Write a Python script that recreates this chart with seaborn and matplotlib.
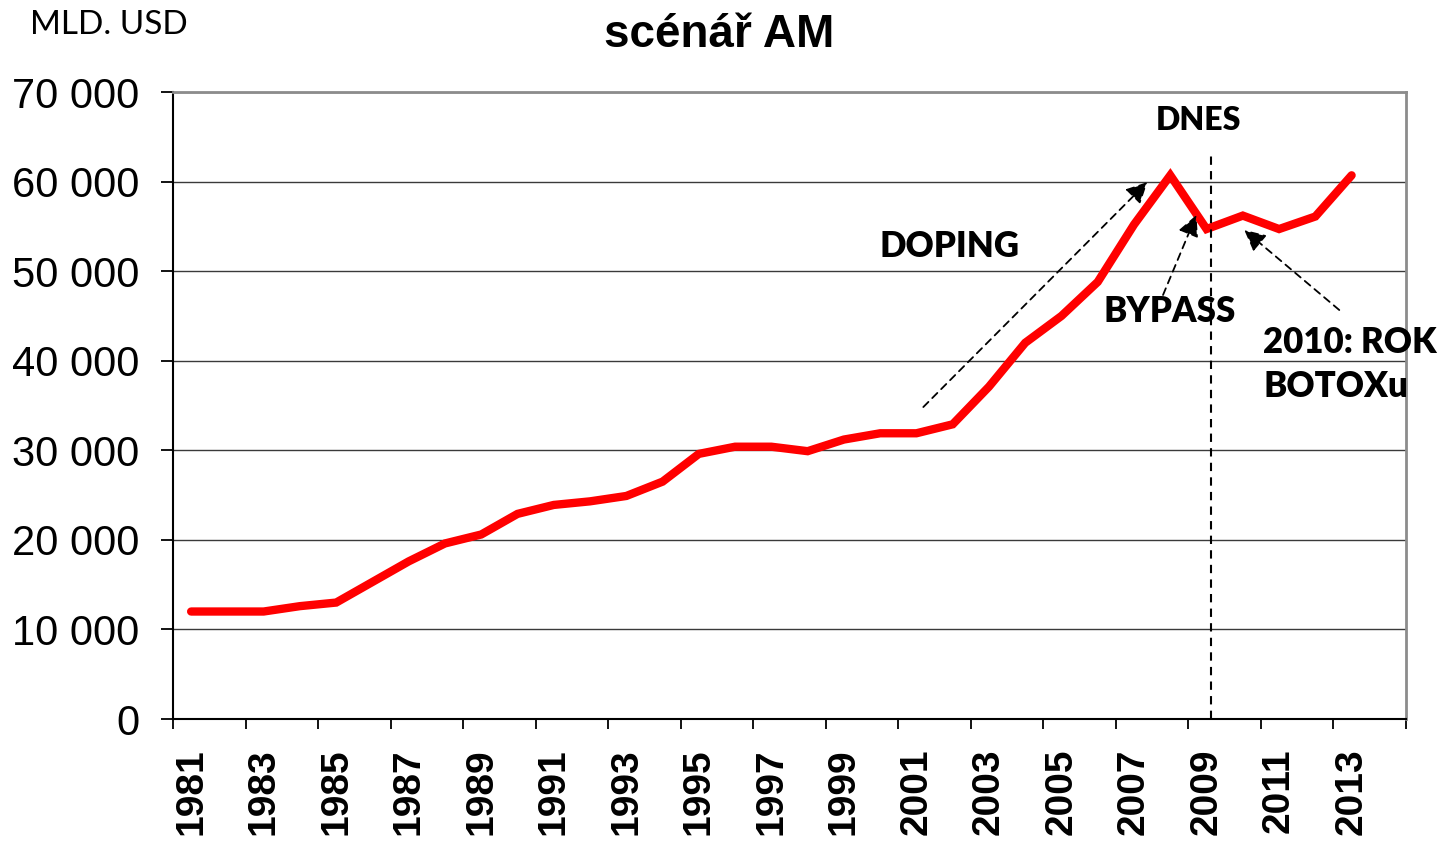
import numpy as np
import pandas as pd
import matplotlib
matplotlib.use("Agg")
import matplotlib.pyplot as plt
from matplotlib.ticker import FixedLocator, FuncFormatter
import seaborn as sns

# market size, billions USD
years = list(range(1981, 2014))
values = [12000, 12000, 12000, 12600, 13000, 15300, 17600, 19600, 20600, 22900,
          23900, 24300, 24900, 26500, 29600, 30400, 30400, 29900, 31200, 31900,
          31900, 32900, 37100, 42000, 45000, 48800, 55200, 60700, 54700, 56200,
          54700, 56100, 60700]
y_ticks = [0, 10000, 20000, 30000, 40000, 50000, 60000, 70000]
label_years = list(range(1981, 2014, 2))

df = pd.DataFrame({"year": years, "value": values})

sns.set_style("white")
plt.rcParams["font.family"] = ["Liberation Sans", "DejaVu Sans"]
plt.rcParams["text.color"] = "black"
plt.rcParams["xtick.color"] = "black"
plt.rcParams["ytick.color"] = "black"

fig = plt.figure(figsize=(14.54, 8.44), dpi=100)
ax = fig.add_axes([0.11898, 0.14810, 0.84801, 0.74289])

sns.lineplot(data=df, x="year", y="value", ax=ax, color="#ff0000",
             linewidth=6, solid_capstyle="round", solid_joinstyle="miter")

ax.set_xlim(1980.5, 2014.5)
ax.set_ylim(0, 70000)
ax.set_xlabel("")
ax.set_ylabel("")

# y axis
ax.set_yticks(y_ticks)
ax.yaxis.set_major_formatter(FuncFormatter(lambda v, p: f"{int(v):,}".replace(",", " ")))
ax.tick_params(axis="y", which="major", direction="out", length=9, width=1.3,
               color="black", labelcolor="black", pad=15, labelsize=30, left=True)
ax.grid(axis="y", color="#3a3a3a", linewidth=1)
ax.grid(axis="x", visible=False)

# x axis: tick marks on category boundaries, labels on odd years
ax.xaxis.set_major_locator(FixedLocator(np.arange(1980.5, 2015, 2)))
ax.xaxis.set_major_formatter(FuncFormatter(lambda v, p: ""))
ax.xaxis.set_minor_locator(FixedLocator(label_years))
ax.set_xticklabels([str(y) for y in label_years], minor=True, rotation=90,
                   fontsize=28, fontweight="bold", color="black")
ax.tick_params(axis="x", which="major", direction="out", length=7.5, width=1.3,
               color="black", bottom=True)
ax.tick_params(axis="x", which="minor", length=0, pad=21, bottom=True)

for side in ["left", "bottom"]:
    ax.spines[side].set_color("black")
    ax.spines[side].set_linewidth(1.5)
for side in ["top", "right"]:
    ax.spines[side].set_visible(True)
    ax.spines[side].set_color("#8c8c8c")
    ax.spines[side].set_linewidth(2)

# "today" marker
ax.plot([2009.13, 2009.13], [0, 62970], color="black", linewidth=1.5,
        linestyle=(0, (4, 3)))

ann_font = dict(family=["Lato", "DejaVu Sans"], fontweight="heavy", color="black")
arrow = dict(arrowstyle="-|>", color="black", linewidth=1.3,
             linestyle=(0, (4, 3)), mutation_scale=32, shrinkA=0, shrinkB=0)

ax.annotate("", xy=(2007.37, 59950), xytext=(2001.19, 34830), arrowprops=arrow)
ax.annotate("", xy=(2008.72, 56270), xytext=(2007.80, 47340), arrowprops=arrow)
ax.annotate("", xy=(2010.04, 54600), xytext=(2012.66, 45660), arrowprops=arrow)

ax.text(1999.97, 52700, "DOPING", fontsize=25, ha="left", va="center", **ann_font)
ax.text(2006.15, 45440, "BYPASS", fontsize=25, ha="left", va="center", **ann_font)
ax.text(2010.56, 41980, "2010: ROK", fontsize=25, ha="left", va="center", **ann_font)
ax.text(2010.56, 37070, "BOTOXu", fontsize=25, ha="left", va="center", **ann_font)
ax.text(2008.77, 66870, "DNES", fontsize=23, ha="center", va="center", **ann_font)

fig.text(0.4948, 1 - 35 / 844, "scénář AM", fontsize=33, fontweight="bold",
         ha="center", va="center", color="black")
fig.text(30 / 1454, 1 - 25 / 844, "MLD. USD", fontsize=24, ha="left", va="center",
         family=["Lato", "DejaVu Sans"], fontweight="normal", color="black")

fig.savefig("out.png", dpi=100)
